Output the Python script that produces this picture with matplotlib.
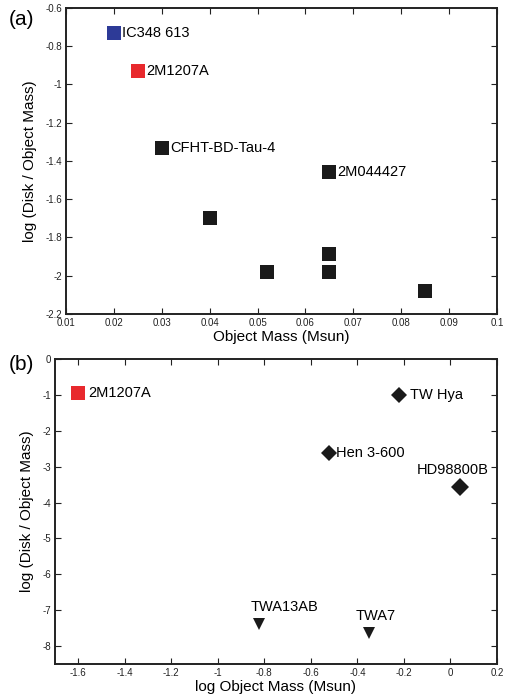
import matplotlib.pyplot as plt

plt.rcParams["font.family"] = ["Liberation Sans", "DejaVu Sans"]

# panel (a): linear mass vs log disk/object mass ratio
mass_a = [0.020, 0.025, 0.030, 0.065, 0.040, 0.052, 0.065, 0.065, 0.085]
ratio_a = [-0.73, -0.93, -1.33, -1.46, -1.70, -1.98, -1.885, -1.98, -2.08]
names_a = ["IC348 613", "2M1207A", "CFHT-BD-Tau-4", "2M044427", "", "", "", "", ""]
colors_a = ["#2d3a97", "#e8292d", "#1a1a1a", "#1a1a1a", "#1a1a1a",
            "#1a1a1a", "#1a1a1a", "#1a1a1a", "#1a1a1a"]

# panel (b): log mass vs log disk/object mass ratio
logm_b = [-1.60, -0.22, -0.52, 0.04, -0.825, -0.35]
ratio_b = [-0.95, -1.0, -2.62, -3.57, -7.38, -7.63]
names_b = ["2M1207A", "TW Hya", "Hen 3-600", "HD98800B", "TWA13AB", "TWA7"]
markers_b = ["s", "D", "D", "D", "v", "v"]
colors_b = ["#e8292d", "#1a1a1a", "#1a1a1a", "#1a1a1a", "#1a1a1a", "#1a1a1a"]
# label offsets in points and alignment
offs_b = [(7, 0, "left", "center"), (8, 0, "left", "center"),
          (5, 0, "left", "center"), (-5, 7, "center", "bottom"),
          (-6, 7, "left", "bottom"), (5, 7, "center", "bottom")]
sizes_b = [9.5, 8, 8, 9, 9, 9]

fig = plt.figure(figsize=(5.13, 6.99), dpi=100)
ax1 = fig.add_axes([0.1287, 0.5508, 0.8401, 0.4378])
ax2 = fig.add_axes([0.1072, 0.0500, 0.8616, 0.4364])

for x, y, n, c in zip(mass_a, ratio_a, names_a, colors_a):
    ax1.plot(x, y, "s", color=c, markersize=9.5, markeredgewidth=0)
    if n:
        ax1.annotate(n, (x, y), xytext=(6, 0), textcoords="offset points",
                     ha="left", va="center", fontsize=10.5)

ax1.set_xlim(0.01, 0.1)
ax1.set_ylim(-2.2, -0.6)
ax1.set_xticks([0.01, 0.02, 0.03, 0.04, 0.05, 0.06, 0.07, 0.08, 0.09, 0.1])
ax1.set_xticklabels(["0.01", "0.02", "0.03", "0.04", "0.05", "0.06", "0.07",
                     "0.08", "0.09", "0.1"])
ax1.set_yticks([-2.2, -2, -1.8, -1.6, -1.4, -1.2, -1, -0.8, -0.6])
ax1.set_yticklabels(["-2.2", "-2", "-1.8", "-1.6", "-1.4", "-1.2", "-1", "-0.8", "-0.6"])
ax1.set_xlabel("Object Mass (Msun)", fontsize=11, labelpad=1)
ax1.set_ylabel("log (Disk / Object Mass)", fontsize=11, labelpad=6)

for x, y, n, m, c, o, s in zip(logm_b, ratio_b, names_b, markers_b, colors_b,
                               offs_b, sizes_b):
    ax2.plot(x, y, m, color=c, markersize=s, markeredgewidth=0)
    ax2.annotate(n, (x, y), xytext=(o[0], o[1]), textcoords="offset points",
                 ha=o[2], va=o[3], fontsize=10.5)

ax2.set_xlim(-1.7, 0.2)
ax2.set_ylim(-8.5, 0)
ax2.set_xticks([-1.6, -1.4, -1.2, -1, -0.8, -0.6, -0.4, -0.2, 0, 0.2])
ax2.set_xticklabels(["-1.6", "-1.4", "-1.2", "-1", "-0.8", "-0.6", "-0.4",
                     "-0.2", "0", "0.2"])
ax2.set_yticks([-8, -7, -6, -5, -4, -3, -2, -1, 0])
ax2.set_yticklabels(["-8", "-7", "-6", "-5", "-4", "-3", "-2", "-1", "0"])
ax2.set_xlabel("log Object Mass (Msun)", fontsize=11, labelpad=1)
ax2.set_ylabel("log (Disk / Object Mass)", fontsize=11, labelpad=6)

for ax in (ax1, ax2):
    for sp in ax.spines.values():
        sp.set_linewidth(1.4)
        sp.set_color("#222222")
    ax.tick_params(direction="in", top=True, right=True, length=4, width=0.8,
                   labelsize=7, pad=3, colors="#222222")

fig.text(0.018, 0.985, "(a)", fontsize=15, va="top")
fig.text(0.018, 0.492, "(b)", fontsize=15, va="top")

fig.savefig("out.png", dpi=100)
